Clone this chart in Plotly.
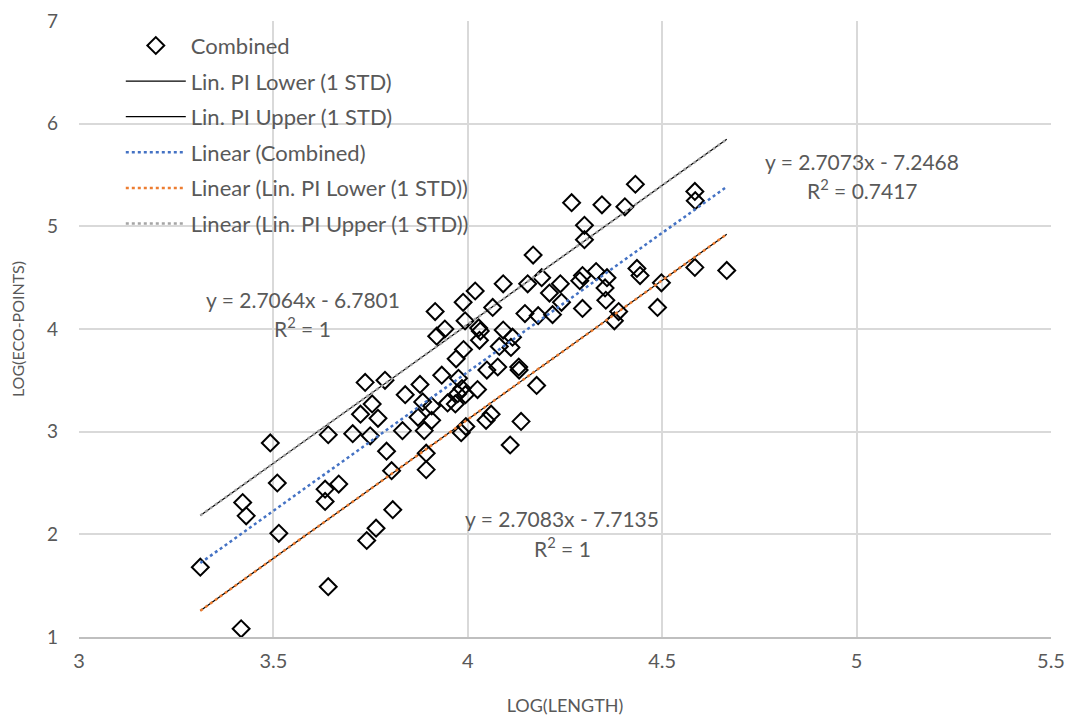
import plotly.graph_objects as go

# ---- data ----
log_length = [3.312, 3.417, 3.492, 3.421, 3.430, 3.510, 3.514, 3.641, 3.641, 3.633,
              3.633, 3.668, 3.704, 3.724, 3.736, 3.754, 3.749, 3.769, 3.787, 3.791,
              3.804, 3.807, 3.764, 3.740, 3.832, 3.839, 3.877, 3.884, 3.872, 3.907,
              3.907, 3.888, 3.893, 3.893, 3.933, 3.948, 3.968, 3.976, 3.985, 3.994,
              3.970, 3.989, 3.983, 3.995, 4.025, 4.168, 4.091, 4.154, 4.190, 4.019,
              3.988, 3.916, 4.064, 4.210, 4.238, 4.241, 4.147, 4.181, 4.218, 4.295,
              4.288, 4.330, 4.358, 4.353, 4.355, 4.295, 4.388, 4.377, 4.435, 4.443,
              4.488, 4.498, 3.941, 3.920, 3.993, 4.028, 4.032, 4.030, 4.091, 4.115,
              4.081, 4.111, 3.974, 4.049, 4.077, 4.131, 4.132, 4.177, 4.060, 4.047,
              4.137, 4.109, 4.431, 4.267, 4.345, 4.404, 4.584, 4.585, 4.300, 4.300,
              4.584, 4.666]
log_eco = [1.68, 1.08, 2.89, 2.31, 2.18, 2.50, 2.01, 1.49, 2.97, 2.44,
           2.32, 2.49, 2.98, 3.17, 3.48, 3.27, 2.96, 3.13, 3.50, 2.81,
           2.62, 2.24, 2.06, 1.94, 3.01, 3.36, 3.46, 3.29, 3.14, 3.25,
           3.11, 3.01, 2.79, 2.63, 3.55, 3.28, 3.27, 3.52, 3.42, 3.36,
           3.71, 3.80, 2.99, 3.05, 3.41, 4.72, 4.44, 4.44, 4.50, 4.37,
           4.26, 4.17, 4.21, 4.35, 4.44, 4.26, 4.15, 4.13, 4.14, 4.52,
           4.47, 4.56, 4.50, 4.40, 4.28, 4.20, 4.17, 4.08, 4.59, 4.52,
           4.21, 4.45, 4.00, 3.93, 4.08, 4.01, 3.98, 3.89, 3.99, 3.92,
           3.83, 3.82, 3.37, 3.60, 3.63, 3.63, 3.60, 3.45, 3.17, 3.11,
           3.10, 2.87, 5.41, 5.23, 5.21, 5.19, 5.34, 5.25, 5.01, 4.87,
           4.60, 4.57]

# fitted equations shown on the chart: [slope, intercept]
fit_combined = [2.7073, -7.2468]
fit_upper = [2.7064, -6.7801]
fit_lower = [2.7083, -7.7135]

eq_texts = ["y = 2.7073x - 7.2468", "R<sup>2</sup> = 0.7417",
            "y = 2.7064x - 6.7801", "R<sup>2</sup> = 1",
            "y = 2.7083x - 7.7135", "R<sup>2</sup> = 1"]
eq_x = [5.014, 5.014, 3.575, 3.575, 4.243, 4.243]
eq_y = [5.63, 5.36, 4.285, 4.023, 2.153, 1.872]

x_ticks = [3, 3.5, 4, 4.5, 5, 5.5]
x_tick_labels = ["3", "3.5", "4", "4.5", "5", "5.5"]
y_ticks = [1, 2, 3, 4, 5, 6, 7]

# ---- derived ----
xs = sorted(log_length)
def line(fit):
    return [fit[0] * v + fit[1] for v in xs]

FONT = "Lato, Carlito, Calibri, sans-serif"
GRAY = "#595959"

fig = go.Figure()
# PI lines (solid black)
fig.add_trace(go.Scatter(x=xs, y=line(fit_lower), mode="lines", name="Lin. PI Lower (1 STD)",
                         line=dict(color="black", width=1.2), legendrank=2, legendgroup="b"))
fig.add_trace(go.Scatter(x=xs, y=line(fit_upper), mode="lines", name="Lin. PI Upper (1 STD)",
                         line=dict(color="black", width=1.2), legendrank=3, legendgroup="c"))
# scatter
fig.add_trace(go.Scatter(x=log_length, y=log_eco, mode="markers", name="Combined",
                         marker=dict(symbol="diamond-open", size=13, color="black",
                                     line=dict(width=2, color="black")),
                         legendrank=1, legendgroup="a"))
# trend lines (dotted)
fig.add_trace(go.Scatter(x=[xs[0], xs[-1]], y=[fit_combined[0] * xs[0] + fit_combined[1],
                                               fit_combined[0] * xs[-1] + fit_combined[1]],
                         mode="lines", name="Linear (Combined)",
                         line=dict(color="#4472c4", width=2.5, dash="dot"), legendrank=4, legendgroup="d"))
fig.add_trace(go.Scatter(x=[xs[0], xs[-1]], y=[fit_lower[0] * xs[0] + fit_lower[1],
                                               fit_lower[0] * xs[-1] + fit_lower[1]],
                         mode="lines", name="Linear (Lin. PI Lower (1 STD))",
                         line=dict(color="#ed7d31", width=2.5, dash="dot"), legendrank=5, legendgroup="e"))
fig.add_trace(go.Scatter(x=[xs[0], xs[-1]], y=[fit_upper[0] * xs[0] + fit_upper[1],
                                               fit_upper[0] * xs[-1] + fit_upper[1]],
                         mode="lines", name="Linear (Lin. PI Upper (1 STD))",
                         line=dict(color="#a5a5a5", width=2.5, dash="dot"), legendrank=6, legendgroup="f"))

for t, ax, ay in zip(eq_texts, eq_x, eq_y):
    fig.add_annotation(x=ax, y=ay, text=t, showarrow=False, xanchor="center", yanchor="middle",
                       font=dict(family=FONT, size=21, color=GRAY))

fig.update_layout(
    width=1077, height=722,
    margin=dict(l=71, r=34, t=13, b=93),
    paper_bgcolor="white", plot_bgcolor="white",
    font=dict(family=FONT, size=20, color=GRAY),
    showlegend=True,
    legend=dict(x=0.043, y=0.994, xanchor="left", yanchor="top", bgcolor="rgba(0,0,0,0)",
                font=dict(family=FONT, size=22, color=GRAY), tracegroupgap=4,
                itemwidth=60),
    xaxis=dict(range=[3, 5.5], tickvals=x_ticks, ticktext=x_tick_labels, automargin=False,
               showgrid=True, gridcolor="#d9d9d9", gridwidth=1.5, zeroline=False,
               showline=True, linecolor="#bfbfbf", linewidth=1.5, ticks="",
               ticklabelstandoff=5, ticklabeloverflow="allow",
               title=dict(text="LOG(LENGTH)", font=dict(family=FONT, size=18, color=GRAY), standoff=29),
               tickfont=dict(family=FONT, size=20, color=GRAY)),
    yaxis=dict(range=[1, 7], tickvals=y_ticks, automargin=False,
               showgrid=True, gridcolor="#d9d9d9", gridwidth=1.5, zeroline=False,
               showline=False, ticks="", ticklabelstandoff=20, ticklabeloverflow="allow",
               title=dict(text="LOG(ECO-POINTS)", font=dict(family=FONT, size=16, color=GRAY), standoff=18),
               tickfont=dict(family=FONT, size=19, color=GRAY)),
)

fig.write_html("out.html")
